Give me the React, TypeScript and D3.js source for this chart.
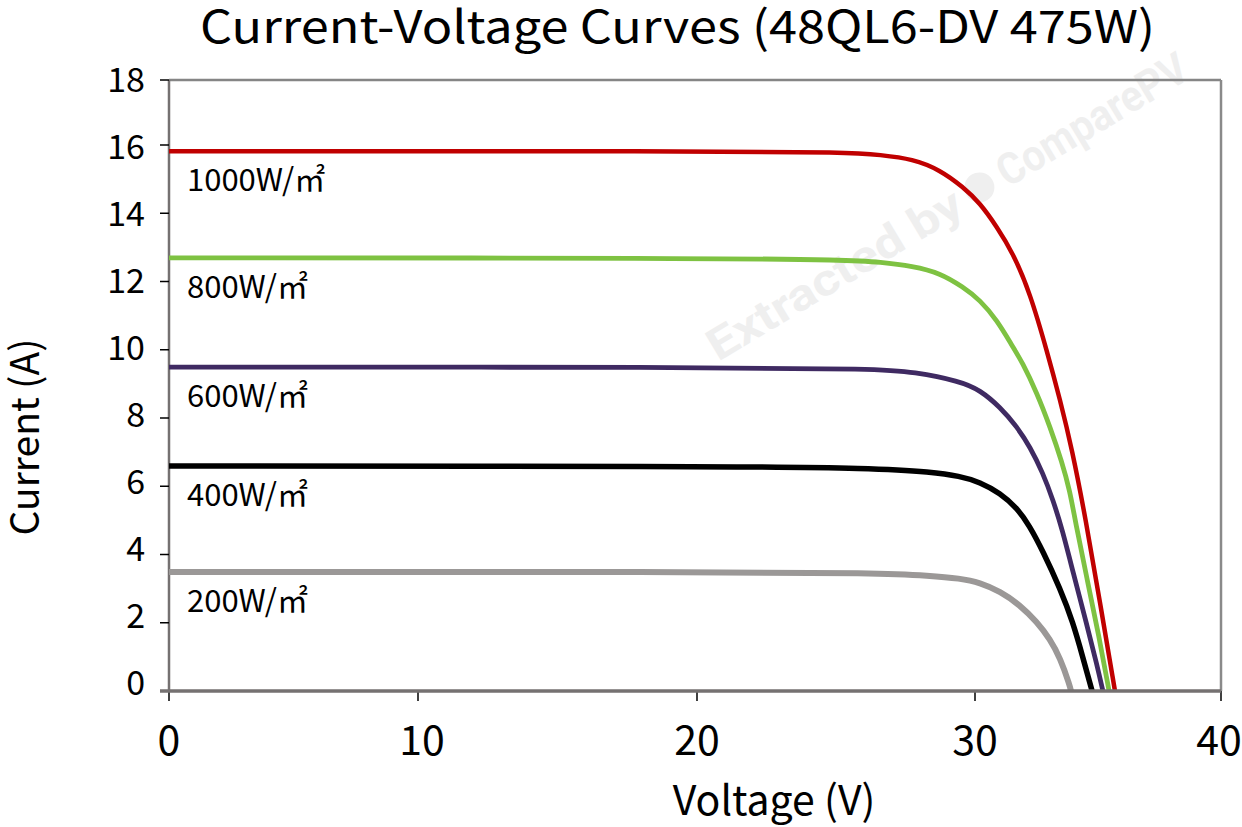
import * as d3 from "d3";

// I-V curves, [voltage V, current A]
const irradianceLabels = ["1000W/㎡", "800W/㎡", "600W/㎡", "400W/㎡", "200W/㎡"];
const seriesColors = ["#c00000", "#7ec242", "#3f2a62", "#000000", "#9b9897"];
const seriesWidths = [4.5, 4.8, 4.8, 5.5, 6];

const curve1000: [number, number][] = [
  [0, 15.82], [20, 15.82], [25.5, 15.79], [26.58, 15.71], [27.77, 15.59],
  [28.74, 15.27], [29.57, 14.77], [30.2, 14.3], [30.89, 13.6], [31.54, 12.84],
  [32.24, 11.66], [32.93, 9.95], [33.46, 8.53], [33.94, 7.1], [34.51, 5.0],
  [35.08, 2.6], [35.69, 0],
];
const curve800: [number, number][] = [
  [0, 12.69], [20, 12.69], [25.5, 12.63], [26.58, 12.57], [27.77, 12.45],
  [28.74, 12.25], [29.57, 11.84], [30.2, 11.46], [30.89, 10.87], [31.54, 10.08],
  [31.91, 9.65], [32.52, 8.73], [33.05, 7.74], [33.54, 6.7], [33.86, 5.85],
  [34.07, 5.0], [34.55, 3.3], [35.04, 1.6], [35.45, 0],
];
const curve600: [number, number][] = [
  [0, 9.49], [20, 9.49], [26.58, 9.44], [27.77, 9.35], [29.46, 9.08],
  [30.2, 8.82], [31.02, 8.32], [31.71, 7.74], [32.24, 7.15], [32.76, 6.39],
  [33.17, 5.6], [33.54, 4.75], [33.98, 3.5], [34.55, 1.93], [34.96, 0.76],
  [35.2, 0],
];
const curve400: [number, number][] = [
  [0, 6.59], [20, 6.59], [26.58, 6.53], [28.38, 6.42], [29.46, 6.3],
  [30.2, 6.12], [31.02, 5.8], [31.71, 5.36], [32.2, 4.86], [32.76, 4.1],
  [33.46, 3.0], [33.98, 2.02], [34.39, 0.97], [34.76, 0],
];
const curve200: [number, number][] = [
  [0, 3.49], [20, 3.49], [26.58, 3.46], [28.38, 3.38], [29.46, 3.3],
  [30.2, 3.18], [31.02, 2.92], [31.83, 2.52], [32.52, 2.02], [33.05, 1.52],
  [33.46, 0.97], [33.86, 0.15], [33.9, 0],
];
const curves = [curve1000, curve800, curve600, curve400, curve200];

const voltageTicks = [0, 10, 20, 30, 40];
const currentTicks = [0, 2, 4, 6, 8, 10, 12, 14, 16, 18];

const W = 1242;
const H = 827;
const FONT = "'Noto Sans CJK SC', 'Noto Sans', sans-serif";

export default function App() {
  // the source axes are not evenly spaced, so both scales are piecewise
  const x = d3.scaleLinear().domain(voltageTicks).range([169, 418, 697, 975, 1221]);
  const y = d3.scaleLinear().domain([0, 16, 18]).range([691, 145, 80]);
  const yLabel = d3.scaleLinear().domain([0, 18]).range([680, 77]);

  const line = d3
    .line<[number, number]>()
    .x((d) => x(d[0]))
    .y((d) => y(d[1]))
    .curve(d3.curveBasis);

  const x0 = x(0);
  const x1 = x(40);
  const yb = y(0);
  const yt = y(18);

  return (
    <svg
      width={W}
      height={H}
      style={{ position: "absolute", left: 0, top: 0, background: "#fff" }}
      fontFamily={FONT}
    >
      <rect width={W} height={H} fill="#fff" />

      {/* watermark */}
      <g transform="translate(718,362) rotate(-31)" fill="#efefef">
        <text
          fontFamily="Roboto, sans-serif"
          fontWeight="bold"
          fontSize={44}
          x={0}
          y={0}
          textLength={290}
          lengthAdjust="spacingAndGlyphs"
        >
          Extracted by
        </text>
        <circle cx={314} cy={-15} r={15} />
        <text
          fontFamily="Roboto, sans-serif"
          fontWeight="bold"
          fontSize={44}
          x={338}
          y={0}
          textLength={215}
          lengthAdjust="spacingAndGlyphs"
        >
          ComparePV
        </text>
      </g>

      <text
        x={200}
        y={43}
        fontSize={45}
        fill="#000"
        textLength={955}
        lengthAdjust="spacingAndGlyphs"
      >
        Current-Voltage Curves (48QL6-DV 475W)
      </text>

      {/* plot frame */}
      <line x1={x0} x2={x1} y1={yt} y2={yt} stroke="#858585" strokeWidth={2.5} />
      <line x1={x1} x2={x1} y1={yt} y2={yb} stroke="#8a8a8a" strokeWidth={2.5} />
      <line x1={x0} x2={x0} y1={yt} y2={yb} stroke="#757171" strokeWidth={2.5} />

      {/* y ticks */}
      {currentTicks.map((t) => (
        <g key={t}>
          <line x1={x0 - 9} x2={x0} y1={y(t)} y2={y(t)} stroke="#000" strokeWidth={1.5} />
          <text
            x={145}
            y={yLabel(t)}
            textAnchor="end"
            dominantBaseline="central"
            fontSize={34}
            fill="#000"
          >
            {t}
          </text>
        </g>
      ))}

      {/* x ticks */}
      {voltageTicks.map((t) => (
        <g key={t}>
          <line x1={x(t)} x2={x(t)} y1={yb} y2={yb + 10} stroke="#000" strokeWidth={1.5} />
          <text
            x={x(t) + (t === 10 ? 4 : t === 40 ? -2 : 0)}
            y={755}
            textAnchor="middle"
            fontSize={41}
            fill="#000"
          >
            {t}
          </text>
        </g>
      ))}

      {/* curves, back to front */}
      {curves
        .map((c, i) => ({ c, i }))
        .reverse()
        .map(({ c, i }) => (
          <path
            key={i}
            d={line(c) ?? undefined}
            fill="none"
            stroke={seriesColors[i]}
            strokeWidth={seriesWidths[i]}
            strokeLinejoin="round"
          />
        ))}

      {/* bottom axis over curve ends */}
      <line x1={x0 - 9} x2={x1} y1={yb} y2={yb} stroke="#757171" strokeWidth={3.5} />

      {curves.map((c, i) => (
        <text key={i} x={187} y={y(c[0][1]) + 40} fontSize={31} fill="#000">
          {irradianceLabels[i]}
        </text>
      ))}

      <text x={774} y={815} textAnchor="middle" fontSize={41} fill="#000">
        Voltage (V)
      </text>
      <text
        transform="translate(39,437) rotate(-90)"
        textAnchor="middle"
        fontSize={39}
        fill="#000"
      >
        Current (A)
      </text>
    </svg>
  );
}
